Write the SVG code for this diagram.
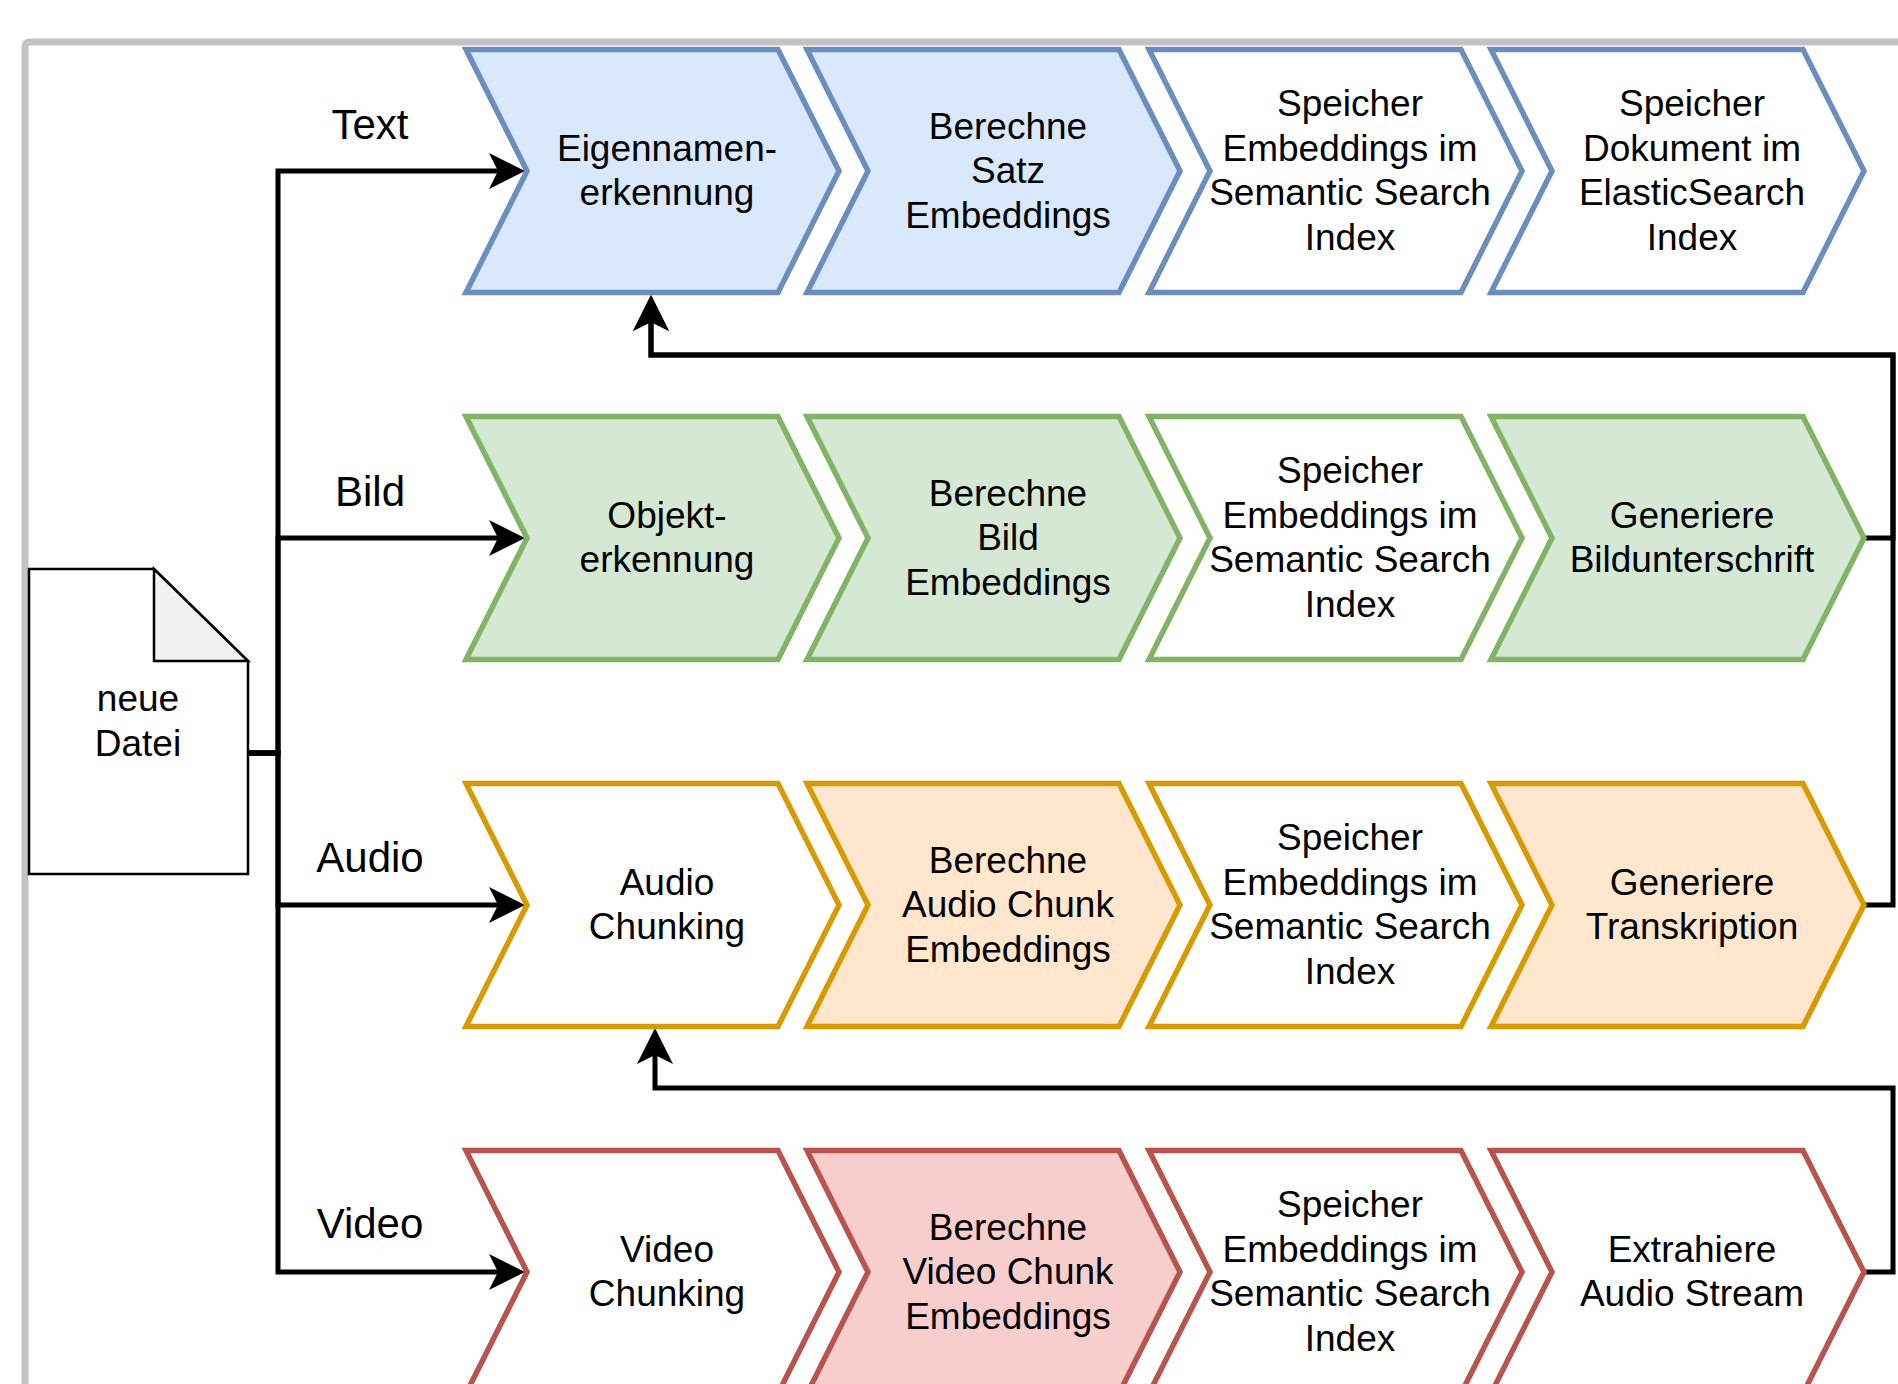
<svg xmlns="http://www.w3.org/2000/svg" width="1898" height="1384" viewBox="0 0 1898 1384">
<style>
  .t { font-family: "Liberation Sans", Arial, Helvetica, sans-serif; font-size: 37px; fill: #000; text-anchor: middle; }
  .lbl { font-family: "Liberation Sans", Arial, Helvetica, sans-serif; font-size: 42px; fill: #000; text-anchor: middle; }
  .ch { stroke-width: 5.5; stroke-linejoin: miter; }
  .blue { stroke: #6c8ebf; }
  .green { stroke: #82b366; }
  .orange { stroke: #d79b00; }
  .red { stroke: #b85450; }
  .fb { fill: #dae8fc; }
  .fg { fill: #d5e8d4; }
  .fo { fill: #ffe6cc; }
  .fr { fill: #f8cecc; }
  .fw { fill: #ffffff; }
  .edge { fill: none; stroke: #000; stroke-width: 5; stroke-linejoin: miter; }
</style>
<defs>
  <marker id="arrow" viewBox="0 0 36 36" refX="9" refY="18" markerWidth="36" markerHeight="36" markerUnits="userSpaceOnUse" orient="auto">
    <path d="M0,0 L36,18 L0,36 L9,18 Z" fill="#000"/>
  </marker>
</defs>
<rect x="0" y="0" width="1898" height="1384" fill="#ffffff"/>
<path d="M25,1384 V47 Q25,42 30,42 H1898" fill="none" stroke="#c3c3c3" stroke-width="7"/>

<g id="connectors">
  <path class="edge" d="M248,753 H278 V171 H498" marker-end="url(#arrow)"/>
  <path class="edge" d="M248,753 H278 V538 H498" marker-end="url(#arrow)"/>
  <path class="edge" d="M248,753 H278 V905 H498" marker-end="url(#arrow)"/>
  <path class="edge" d="M248,753 H278 V1272 H498" marker-end="url(#arrow)"/>
  <path class="edge" d="M1864,538 H1893 V355 H651 V322" marker-end="url(#arrow)"/>
  <path class="edge" d="M1864,905 H1893 V355 H651 V322" marker-end="url(#arrow)"/>
  <path class="edge" d="M1864,1272 H1893 V1088 H655 V1055" marker-end="url(#arrow)"/>
</g>

<g id="label-text"><text class="lbl" x="370" y="139">Text</text></g>
<g id="label-bild"><text class="lbl" x="370" y="506">Bild</text></g>
<g id="label-audio"><text class="lbl" x="370" y="872">Audio</text></g>
<g id="label-video"><text class="lbl" x="370" y="1238">Video</text></g>

<g id="neue-datei">
  <path d="M29,569 H154 L248,661 V874 H29 Z" fill="#ffffff" stroke="#000" stroke-width="2.5"/>
  <path d="M154,569 V661 H248 Z" fill="#f1f1f1" stroke="#000" stroke-width="2.5" stroke-linejoin="miter"/>
  <text class="t" x="138"><tspan x="138" y="711">neue</tspan><tspan x="138" y="756">Datei</tspan></text>
</g>

<!-- Row 1: Text -->
<g id="text-ner">
  <polygon class="ch blue fb" points="466,49.5 778,49.5 839,171 778,292.5 466,292.5 527,171"/>
  <text class="t"><tspan x="667" y="160.75">Eigennamen-</tspan><tspan x="667" y="205.25">erkennung</tspan></text>
</g>
<g id="text-embed">
  <polygon class="ch blue fb" points="807,49.5 1119,49.5 1180,171 1119,292.5 807,292.5 868,171"/>
  <text class="t"><tspan x="1008" y="138.5">Berechne</tspan><tspan x="1008" y="183">Satz</tspan><tspan x="1008" y="227.5">Embeddings</tspan></text>
</g>
<g id="text-store-sem">
  <polygon class="ch blue fw" points="1149,49.5 1461,49.5 1522,171 1461,292.5 1149,292.5 1210,171"/>
  <text class="t"><tspan x="1350" y="116.25">Speicher</tspan><tspan x="1350" y="160.75">Embeddings im</tspan><tspan x="1350" y="205.25">Semantic Search</tspan><tspan x="1350" y="249.75">Index</tspan></text>
</g>
<g id="text-store-es">
  <polygon class="ch blue fw" points="1491,49.5 1803,49.5 1864,171 1803,292.5 1491,292.5 1552,171"/>
  <text class="t"><tspan x="1692" y="116.25">Speicher</tspan><tspan x="1692" y="160.75">Dokument im</tspan><tspan x="1692" y="205.25">ElasticSearch</tspan><tspan x="1692" y="249.75">Index</tspan></text>
</g>

<!-- Row 2: Bild -->
<g id="bild-obj">
  <polygon class="ch green fg" points="466,416.5 778,416.5 839,538 778,659.5 466,659.5 527,538"/>
  <text class="t"><tspan x="667" y="527.75">Objekt-</tspan><tspan x="667" y="572.25">erkennung</tspan></text>
</g>
<g id="bild-embed">
  <polygon class="ch green fg" points="807,416.5 1119,416.5 1180,538 1119,659.5 807,659.5 868,538"/>
  <text class="t"><tspan x="1008" y="505.5">Berechne</tspan><tspan x="1008" y="550">Bild</tspan><tspan x="1008" y="594.5">Embeddings</tspan></text>
</g>
<g id="bild-store-sem">
  <polygon class="ch green fw" points="1149,416.5 1461,416.5 1522,538 1461,659.5 1149,659.5 1210,538"/>
  <text class="t"><tspan x="1350" y="483.25">Speicher</tspan><tspan x="1350" y="527.75">Embeddings im</tspan><tspan x="1350" y="572.25">Semantic Search</tspan><tspan x="1350" y="616.75">Index</tspan></text>
</g>
<g id="bild-caption">
  <polygon class="ch green fg" points="1491,416.5 1803,416.5 1864,538 1803,659.5 1491,659.5 1552,538"/>
  <text class="t"><tspan x="1692" y="527.75">Generiere</tspan><tspan x="1692" y="572.25">Bildunterschrift</tspan></text>
</g>

<!-- Row 3: Audio -->
<g id="audio-chunk">
  <polygon class="ch orange fw" points="466,783.5 778,783.5 839,905 778,1026.5 466,1026.5 527,905"/>
  <text class="t"><tspan x="667" y="894.75">Audio</tspan><tspan x="667" y="939.25">Chunking</tspan></text>
</g>
<g id="audio-embed">
  <polygon class="ch orange fo" points="807,783.5 1119,783.5 1180,905 1119,1026.5 807,1026.5 868,905"/>
  <text class="t"><tspan x="1008" y="872.5">Berechne</tspan><tspan x="1008" y="917">Audio Chunk</tspan><tspan x="1008" y="961.5">Embeddings</tspan></text>
</g>
<g id="audio-store-sem">
  <polygon class="ch orange fw" points="1149,783.5 1461,783.5 1522,905 1461,1026.5 1149,1026.5 1210,905"/>
  <text class="t"><tspan x="1350" y="850.25">Speicher</tspan><tspan x="1350" y="894.75">Embeddings im</tspan><tspan x="1350" y="939.25">Semantic Search</tspan><tspan x="1350" y="983.75">Index</tspan></text>
</g>
<g id="audio-transcribe">
  <polygon class="ch orange fo" points="1491,783.5 1803,783.5 1864,905 1803,1026.5 1491,1026.5 1552,905"/>
  <text class="t"><tspan x="1692" y="894.75">Generiere</tspan><tspan x="1692" y="939.25">Transkription</tspan></text>
</g>

<!-- Row 4: Video -->
<g id="video-chunk">
  <polygon class="ch red fw" points="466,1150.5 778,1150.5 839,1272 778,1393.5 466,1393.5 527,1272"/>
  <text class="t"><tspan x="667" y="1261.75">Video</tspan><tspan x="667" y="1306.25">Chunking</tspan></text>
</g>
<g id="video-embed">
  <polygon class="ch red fr" points="807,1150.5 1119,1150.5 1180,1272 1119,1393.5 807,1393.5 868,1272"/>
  <text class="t"><tspan x="1008" y="1239.5">Berechne</tspan><tspan x="1008" y="1284">Video Chunk</tspan><tspan x="1008" y="1328.5">Embeddings</tspan></text>
</g>
<g id="video-store-sem">
  <polygon class="ch red fw" points="1149,1150.5 1461,1150.5 1522,1272 1461,1393.5 1149,1393.5 1210,1272"/>
  <text class="t"><tspan x="1350" y="1217.25">Speicher</tspan><tspan x="1350" y="1261.75">Embeddings im</tspan><tspan x="1350" y="1306.25">Semantic Search</tspan><tspan x="1350" y="1350.75">Index</tspan></text>
</g>
<g id="video-extract">
  <polygon class="ch red fw" points="1491,1150.5 1803,1150.5 1864,1272 1803,1393.5 1491,1393.5 1552,1272"/>
  <text class="t"><tspan x="1692" y="1261.75">Extrahiere</tspan><tspan x="1692" y="1306.25">Audio Stream</tspan></text>
</g>
</svg>
